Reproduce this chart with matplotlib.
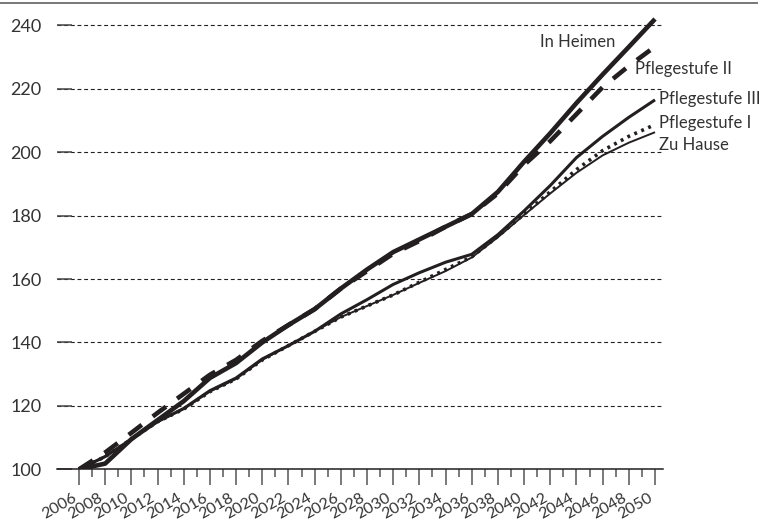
import matplotlib

matplotlib.use("Agg")
import matplotlib.pyplot as plt
from matplotlib.lines import Line2D
import numpy as np

plt.rcParams["font.family"] = ["Lato", "DejaVu Sans"]

# index 2006 = 100, values read every second year
years = list(range(2006, 2051, 2))
in_heimen = [100, 101.8, 109.5, 115.5, 121.5, 128.8, 133.5, 140, 145.5, 150.5, 157, 163,
             168.5, 172.5, 176.5, 180.5, 187.5, 197, 206, 215.5, 224.5, 233.2, 242]
stufe_2 = [100, 105.3, 111.5, 117.8, 123.8, 129.8, 134.5, 140.5, 145.5, 150.5, 157, 162.5,
           168, 172, 176.5, 180.5, 187, 196, 203.5, 212, 220.5, 227.2, 233.3]
stufe_3 = [100, 104, 109.5, 115, 119.2, 124.8, 128.8, 134.8, 139, 143.5, 149, 153.5,
           158.3, 162, 165.3, 167.8, 174, 181.5, 189.5, 198.3, 205, 211, 216.5]
stufe_1 = [100, 104, 109.5, 115, 119, 124.5, 128.5, 134.5, 139, 143.5, 148, 151.5,
           155, 159, 163, 167, 173.5, 180.5, 187.5, 194.5, 200.5, 205, 208.7]
zu_hause = [100, 104.2, 109.5, 115, 119, 124.5, 128.5, 134.5, 139, 143.5, 148, 151.5,
            155, 158.8, 162.5, 166.8, 173.2, 180.2, 187, 193.5, 199, 203, 206.3]

series = [
    ("In Heimen", in_heimen, dict(lw=3.3, ls="-")),
    ("Pflegestufe II", stufe_2, dict(lw=3.3, ls=(0, (3.6, 3.0)))),
    ("Pflegestufe III", stufe_3, dict(lw=2.2, ls="-")),
    ("Pflegestufe I", stufe_1, dict(lw=2.6, ls=(0, (0.8, 1.3)))),
    ("Zu Hause", zu_hause, dict(lw=1.4, ls="-")),
]

ink = "#231f20"
text_col = "#333333"

fig = plt.figure(figsize=(7.61, 5.21), dpi=100)
ax = fig.add_axes([57 / 761, 1 - 469.3 / 521, (663 - 57) / 761, 459.8 / 521])

for name, vals, style in series:
    ax.plot(years, vals, color=ink, solid_capstyle="butt", dash_capstyle="butt",
            zorder=3, **style)

ax.set_xlim(2004.32, 2050.61)
ax.set_ylim(100, 245)

ax.set_yticks(np.arange(100, 241, 20))
ax.set_xticks(np.arange(2006, 2051, 2))
ax.set_xticks(np.arange(2007, 2050, 2), minor=True)
ax.set_xticklabels([str(y) for y in range(2006, 2051, 2)], rotation=30, ha="right",
                   fontsize=11.5, color=text_col)
ax.tick_params(axis="x", which="major", length=11.5, width=1.1, color="#555555", pad=4)
ax.tick_params(axis="x", which="minor", length=6, width=1.1, color="#555555")
ax.tick_params(axis="y", direction="in", length=11, width=1.1, color="#444444",
               labelsize=13, labelcolor=text_col, pad=11)

for s in ["left", "right", "top"]:
    ax.spines[s].set_visible(False)
ax.spines["bottom"].set_color(ink)
ax.spines["bottom"].set_linewidth(1.1)

ax.yaxis.grid(True, color=ink, lw=0.8, ls=(0, (3.5, 2.5)))
ax.set_axisbelow(True)

labels = [
    ("In Heimen", 2046.95, 234.7, "right"),
    ("Pflegestufe II", 2048.47, 226.3, "left"),
    ("Pflegestufe III", 2050.3, 216.7, "left"),
    ("Pflegestufe I", 2050.3, 209.2, "left"),
    ("Zu Hause", 2050.3, 202.3, "left"),
]
for txt, lx, ly, ha in labels:
    ax.text(lx, ly, txt, ha=ha, va="center", fontsize=12,
            color=text_col, clip_on=False)

# grey rule along the top edge
fig.add_artist(Line2D([0, 0.995], [1 - 3 / 521, 1 - 3 / 521], color="#777777", lw=1.4))

fig.savefig("out.png", dpi=100)
